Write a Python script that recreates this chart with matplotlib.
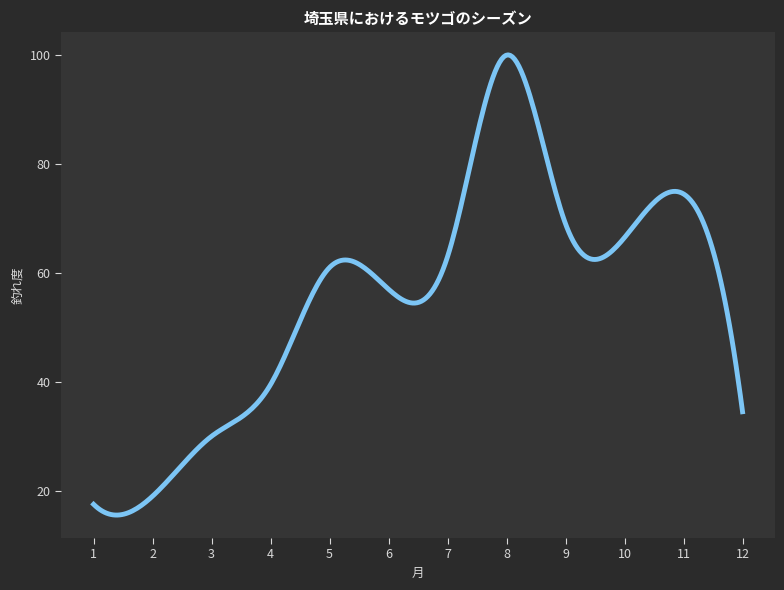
import numpy as np
import matplotlib
matplotlib.use('Agg')
import matplotlib.pyplot as plt

plt.rcParams['font.family'] = ['Noto Sans CJK JP', 'DejaVu Sans']

# 月ごとの釣れ度
months = [1, 2, 3, 4, 5, 6, 7, 8, 9, 10, 11, 12]
catch = [17.5, 19, 30, 39.5, 61, 57, 63, 100, 69, 66.5, 74.5, 34.5]


def spline_curve(x, y, num=300):
    # not-a-knot cubic spline (uniform spacing)
    x = np.asarray(x, float)
    y = np.asarray(y, float)
    n = len(x)
    h = x[1] - x[0]
    A = np.zeros((n, n))
    b = np.zeros(n)
    A[0, 0:3] = [1, -2, 1]
    A[-1, -3:] = [1, -2, 1]
    for i in range(1, n - 1):
        A[i, i - 1:i + 2] = [1, 4, 1]
        b[i] = 6 * (y[i - 1] - 2 * y[i] + y[i + 1]) / h ** 2
    M = np.linalg.solve(A, b)
    xs = np.linspace(x[0], x[-1], num)
    idx = np.clip(((xs - x[0]) // h).astype(int), 0, n - 2)
    x0, x1 = x[idx], x[idx + 1]
    ys = (M[idx] * (x1 - xs) ** 3 / (6 * h) + M[idx + 1] * (xs - x0) ** 3 / (6 * h)
          + (y[idx] / h - M[idx] * h / 6) * (x1 - xs)
          + (y[idx + 1] / h - M[idx + 1] * h / 6) * (xs - x0))
    return xs, ys


xs, ys = spline_curve(months, catch)

fig = plt.figure(figsize=(7.84, 5.9), dpi=100, facecolor='#2b2b2b')
ax = fig.add_axes([0.078, 0.088, 0.9105, 0.858])
ax.set_facecolor('#353535')
ax.plot(xs, ys, color='#7cc5f5', linewidth=3.5)

ax.set_xticks(months)
for s in ax.spines.values():
    s.set_visible(False)
ax.tick_params(colors='#d8d8d8', labelsize=9, length=4)
ax.set_title('埼玉県におけるモツゴのシーズン', color='white', fontsize=11,
             fontweight='bold', pad=6)
ax.set_xlabel('月', color='#d8d8d8', fontsize=9)
ax.set_ylabel('釣れ度', color='#d8d8d8', fontsize=9)

fig.savefig('out.png', dpi=100, facecolor=fig.get_facecolor())
